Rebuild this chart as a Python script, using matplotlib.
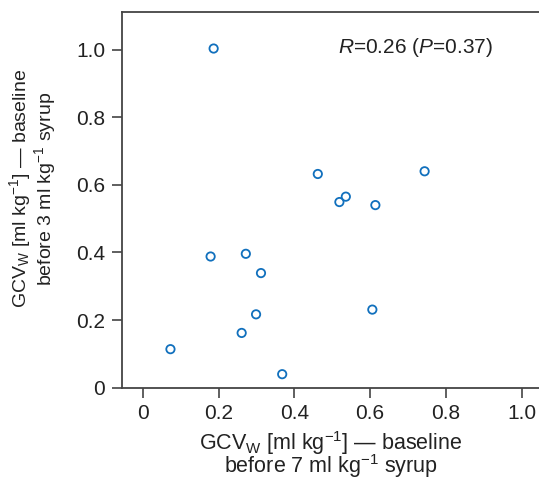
import matplotlib
matplotlib.use("Agg")
import matplotlib.pyplot as plt

gcv_7ml = [0.187, 0.462, 0.744, 0.519, 0.536, 0.614, 0.272, 0.179,
           0.312, 0.299, 0.606, 0.261, 0.073, 0.368]
gcv_3ml = [1.003, 0.632, 0.640, 0.549, 0.565, 0.540, 0.396, 0.388,
           0.339, 0.217, 0.231, 0.162, 0.114, 0.040]
tick_werte = [0, 0.2, 0.4, 0.6, 0.8, 1.0]
tick_labels = ["0", "0.2", "0.4", "0.6", "0.8", "1.0"]

plt.rcParams["font.family"] = ["Liberation Sans", "DejaVu Sans"]
plt.rcParams["mathtext.fontset"] = "custom"
plt.rcParams["mathtext.rm"] = "Liberation Sans"
plt.rcParams["mathtext.it"] = "Liberation Sans:italic"

fig = plt.figure(figsize=(5.39, 4.82), dpi=100)
ax = fig.add_axes([0.2263, 0.1956, 0.7737, 0.7795])

ax.scatter(gcv_7ml, gcv_3ml, s=36, facecolors="none", edgecolors="#1170bd",
           linewidths=1.3, zorder=3)

ax.set_xlim(-0.055, 1.046)
ax.set_ylim(0, 1.111)
ax.set_xticks(tick_werte)
ax.set_xticklabels(tick_labels)
ax.set_yticks(tick_werte)
ax.set_yticklabels(tick_labels)

# Achsen gestalten
for seite in ["left", "top", "bottom"]:
    ax.spines[seite].set_color("#444444")
    ax.spines[seite].set_linewidth(1.3)
ax.spines["right"].set_visible(False)
ax.tick_params(direction="out", length=7, width=1.2, color="#444444",
               labelsize=15, labelcolor="#222222", pad=5)

ax.set_xlabel("GCV$_\\mathregular{W}$ [ml kg$^{\\mathregular{-1}}$] \u2014 baseline\n"
              "before 7 ml kg$^{\\mathregular{-1}}$ syrup",
              fontsize=15.5, color="#222222", linespacing=0.78)
ax.xaxis.set_label_coords(0.5, -0.11)
ax.set_ylabel("GCV$_\\mathregular{W}$ [ml kg$^{\\mathregular{-1}}$] \u2014 baseline\n"
              "before 3 ml kg$^{\\mathregular{-1}}$ syrup",
              fontsize=14, color="#222222", linespacing=0.95)
ax.yaxis.set_label_coords(-0.153, 0.53)

ax.text(0.515, 1.005, "$\\it{R}$=0.26 ($\\it{P}$=0.37)", fontsize=15,
        ha="left", va="center", color="#222222")

fig.savefig("out.png", dpi=100)
